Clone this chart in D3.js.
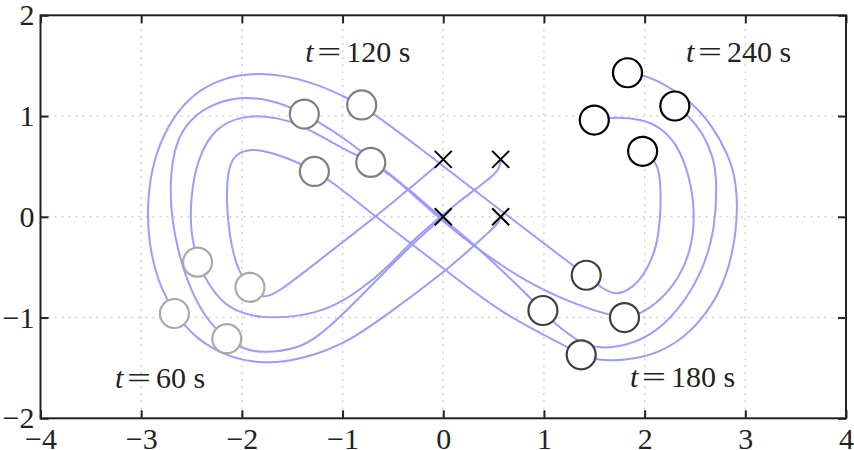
<!DOCTYPE html>
<html>
<head>
<meta charset="utf-8">
<script src="https://cdn.jsdelivr.net/npm/d3@7"></script>
<style>
  html, body { margin: 0; padding: 0; background: #fff; }
  svg { display: block; font-family: "Liberation Serif", "Times New Roman", serif; }
</style>
</head>
<body>
<svg id="chart" width="854" height="450"></svg>
<script>
// ---- data ----
const xTicks = [-4, -3, -2, -1, 0, 1, 2, 3, 4];
const yTicks = [-2, -1, 0, 1, 2];

// start positions (crosses)
const startX = [0, 0.57, 0, 0.57];
const startY = [0, 0, 0.57, 0.57];

// trajectories
const trajA = [[0.57,0],[0.55,-0.06],[0.47,-0.14],[0.07,-0.50],[-0.33,-0.80],[-0.93,-1.25],[-1.42,-1.42],[-1.79,-1.46],[-2.12,-1.40],[-2.45,-1.22],[-2.67,-0.96],[-2.84,-0.64],[-2.93,-0.23],[-2.94,0.17],[-2.88,0.56],[-2.74,0.90],[-2.55,1.16],[-2.27,1.36],[-1.82,1.45],[-1.29,1.34],[-0.96,1.18],[-0.81,1.11],[-0.33,0.76],[0.86,-0.16],[1.42,-0.58],[1.59,-0.72],[1.72,-0.78],[1.88,-0.71],[2.02,-0.54],[2.12,-0.30],[2.16,0.00],[2.16,0.37],[2.12,0.55],[1.98,0.65]];
const trajB = [[0,0],[-0.30,-0.26],[-0.76,-0.73],[-1.03,-1.00],[-1.25,-1.19],[-1.42,-1.30],[-1.79,-1.36],[-2.02,-1.30],[-2.15,-1.21],[-2.35,-1.03],[-2.55,-0.65],[-2.68,-0.16],[-2.72,0.27],[-2.68,0.66],[-2.57,0.91],[-2.35,1.10],[-2.02,1.20],[-1.72,1.16],[-1.52,1.09],[-1.38,1.02],[-1.22,0.93],[-0.98,0.78],[-0.60,0.48],[-0.30,0.24],[0.00,-0.03],[0.30,-0.26],[0.89,-0.83],[0.99,-0.93],[1.09,-1.05],[1.33,-1.23],[1.46,-1.29],[1.69,-1.31],[2.05,-1.20],[2.35,-0.92],[2.58,-0.53],[2.70,-0.13],[2.72,0.37],[2.68,0.60],[2.58,0.83],[2.43,1.01],[2.30,1.10]];
const trajC = [[0.57,0.57],[0.56,0.47],[0.45,0.37],[0.14,0.14],[-0.06,-0.03],[-0.30,-0.23],[-0.56,-0.51],[-0.83,-0.73],[-1.10,-0.90],[-1.42,-0.99],[-1.79,-1.01],[-2.12,-0.93],[-2.32,-0.70],[-2.44,-0.45],[-2.51,-0.16],[-2.51,0.17],[-2.45,0.56],[-2.27,0.89],[-1.99,1.00],[-1.77,1.00],[-1.54,0.96],[-1.32,0.86],[-0.98,0.67],[-0.72,0.54],[-0.53,0.42],[-0.30,0.22],[0.00,-0.05],[0.30,-0.29],[0.89,-0.70],[1.56,-0.96],[1.80,-1.00],[1.95,-0.97],[2.15,-0.84],[2.35,-0.60],[2.47,-0.30],[2.50,0.04],[2.45,0.40],[2.32,0.73],[2.15,0.89],[1.98,0.97],[1.66,0.99],[1.50,0.96]];
const trajD = [[0,0.57],[-0.06,0.51],[-0.43,0.20],[-0.93,-0.20],[-1.42,-0.58],[-1.62,-0.73],[-1.75,-0.80],[-1.86,-0.78],[-1.93,-0.70],[-2.03,-0.55],[-2.11,-0.28],[-2.15,0.07],[-2.15,0.41],[-2.09,0.60],[-1.97,0.66],[-1.85,0.67],[-1.65,0.62],[-1.42,0.53],[-1.28,0.45],[-1.13,0.37],[-0.76,0.07],[0.00,-0.51],[0.56,-0.95],[1.23,-1.29],[1.37,-1.37],[1.52,-1.43],[1.95,-1.42],[2.32,-1.27],[2.62,-0.97],[2.82,-0.60],[2.92,-0.13],[2.92,0.33],[2.83,0.62],[2.68,0.89],[2.48,1.13],[2.18,1.33],[1.98,1.41],[1.83,1.43]];

// robot positions at given times
const times = [60, 120, 180, 240];
const pos60  = [[-2.67,-0.96],[-2.15,-1.21],[-2.44,-0.45],[-1.92,-0.70]];
const pos120 = [[-0.81,1.11],[-1.38,1.02],[-0.72,0.54],[-1.28,0.45]];
const pos180 = [[1.42,-0.58],[0.99,-0.93],[1.80,-1.00],[1.37,-1.37]];
const pos240 = [[1.98,0.65],[2.30,1.10],[1.50,0.96],[1.83,1.43]];
const circleColors = ["#a9a9a9", "#7f7f7f", "#3f3f3f", "#000000"];

// time labels
const labelTimes = ["60", "120", "180", "240"];
const labelX = [-3.26, -1.37, 1.855, 2.41];
const labelY = [-1.70, 1.54, -1.69, 1.54];

// ---- drawing ----
const svg = d3.select("#chart");
const x = d3.scaleLinear().domain([-4, 4]).range([40.5, 846]);
const y = d3.scaleLinear().domain([-2, 2]).range([418.3, 15.3]);
const fmt = d => d < 0 ? "\u2212" + Math.abs(d) : String(d);
const FS = 30;

// grid
const grid = svg.append("g");
grid.selectAll("line.gx").data(xTicks.slice(1, -1)).join("line")
  .attr("x1", d => x(d)).attr("x2", d => x(d))
  .attr("y1", y(2)).attr("y2", y(-2))
  .attr("stroke", "#cfcfcf").attr("stroke-width", 1.4).attr("stroke-dasharray", "2,5");
grid.selectAll("line.gy").data(yTicks.slice(1, -1)).join("line")
  .attr("y1", d => y(d)).attr("y2", d => y(d))
  .attr("x1", x(-4)).attr("x2", x(4))
  .attr("stroke", "#cfcfcf").attr("stroke-width", 1.4).attr("stroke-dasharray", "2,5");

// trajectories
const line = d3.line().x(d => x(d[0])).y(d => y(d[1])).curve(d3.curveBasis);
svg.append("g").selectAll("path").data([trajA, trajB, trajC, trajD]).join("path")
  .attr("d", line).attr("fill", "none")
  .attr("stroke", "#9c9cff").attr("stroke-width", 2);

// start crosses
const cs = 8.5;
const crosses = svg.append("g").attr("stroke", "#000").attr("stroke-width", 2);
startX.forEach((sx, i) => {
  const cx = x(sx), cy = y(startY[i]);
  crosses.append("line").attr("x1", cx - cs).attr("y1", cy - cs).attr("x2", cx + cs).attr("y2", cy + cs);
  crosses.append("line").attr("x1", cx - cs).attr("y1", cy + cs).attr("x2", cx + cs).attr("y2", cy - cs);
});

// robot circles
[pos60, pos120, pos180, pos240].forEach((pts, k) => {
  svg.append("g").selectAll("circle").data(pts).join("circle")
    .attr("cx", d => x(d[0])).attr("cy", d => y(d[1])).attr("r", 14.5)
    .attr("fill", "#fff").attr("stroke", circleColors[k]).attr("stroke-width", 2.2);
});

// axes
const axB = svg.append("g").attr("transform", `translate(0,${y(-2)})`)
  .call(d3.axisBottom(x).tickValues(xTicks).tickSizeInner(-8).tickSizeOuter(0).tickPadding(9).tickFormat(fmt));
const axL = svg.append("g").attr("transform", `translate(${x(-4)},0)`)
  .call(d3.axisLeft(y).tickValues(yTicks).tickSizeInner(-8).tickSizeOuter(0).tickPadding(6).tickFormat(fmt));
const axT = svg.append("g").attr("transform", `translate(0,${y(2)})`)
  .call(d3.axisTop(x).tickValues(xTicks).tickSizeInner(-8).tickSizeOuter(0).tickFormat(""));
const axR = svg.append("g").attr("transform", `translate(${x(4)},0)`)
  .call(d3.axisRight(y).tickValues(yTicks).tickSizeInner(-8).tickSizeOuter(0).tickFormat(""));
[axB, axL, axT, axR].forEach(a => {
  a.select(".domain").remove();
  a.selectAll(".tick line").attr("stroke", "#222").attr("stroke-width", 2);
  a.selectAll("text").attr("font-size", FS).attr("fill", "#222")
    .attr("font-family", "'Liberation Serif', 'Times New Roman', serif");
});
svg.append("rect").attr("x", x(-4)).attr("y", y(2))
  .attr("width", x(4) - x(-4)).attr("height", y(-2) - y(2))
  .attr("fill", "none").attr("stroke", "#222").attr("stroke-width", 2);

// time labels
labelTimes.forEach((t, i) => {
  const lx = x(labelX[i]), ly = y(labelY[i]);
  const g = svg.append("g").attr("font-size", FS).attr("fill", "#222");
  g.append("text").attr("x", lx).attr("y", ly).attr("font-style", "italic").text("t");
  g.append("text").attr("x", lx + 12).attr("y", ly).attr("textLength", 24)
    .attr("lengthAdjust", "spacingAndGlyphs").text("=");
  g.append("text").attr("x", lx + 41).attr("y", ly).text(t + " s");
});
</script>
</body>
</html>
